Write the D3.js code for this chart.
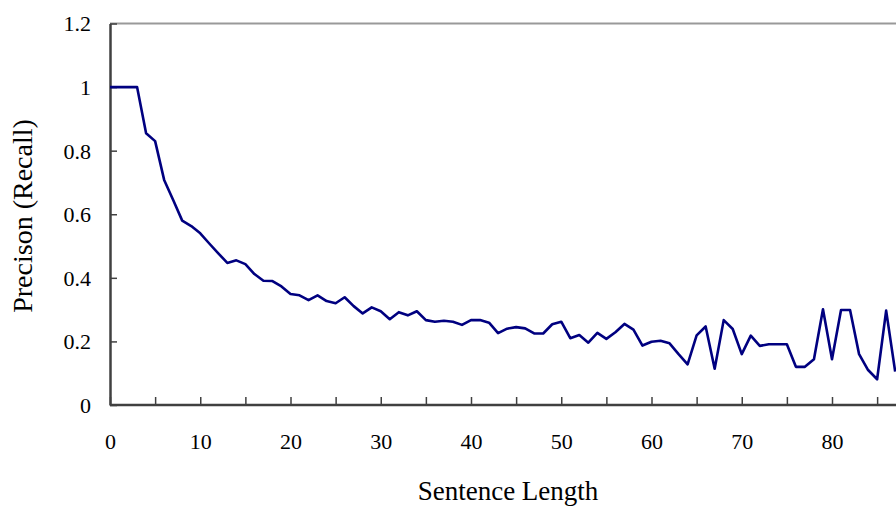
<!DOCTYPE html>
<html>
<head>
<meta charset="utf-8">
<script src="https://cdn.jsdelivr.net/npm/d3@7"></script>
<style>
body{margin:0;background:#fff;}
svg text{font-family:"Liberation Serif","Times New Roman",serif;fill:#000;}
</style>
</head>
<body>
<svg id="chart" width="896" height="506"></svg>
<script>
// sentence length on x, precision (recall) on y
var lengths = d3.range(0, 88);
var precision = [1.0,1.0,1.0,1.0,0.855,0.83,0.708,0.645,0.58,0.563,0.54,0.508,
  0.477,0.447,0.455,0.443,0.412,0.391,0.39,0.373,0.349,0.345,0.33,0.345,
  0.327,0.32,0.339,0.311,0.288,0.307,0.295,0.27,0.292,0.282,0.295,0.267,
  0.262,0.265,0.262,0.252,0.267,0.267,0.259,0.226,0.24,0.245,0.241,0.225,
  0.225,0.254,0.262,0.21,0.22,0.196,0.227,0.208,0.229,0.255,0.237,0.187,
  0.199,0.202,0.194,0.16,0.128,0.219,0.247,0.114,0.267,0.239,0.16,0.218,
  0.186,0.191,0.191,0.191,0.12,0.12,0.144,0.301,0.144,0.299,0.299,0.16,
  0.11,0.081,0.297,0.105];
var yTicks = [0, 0.2, 0.4, 0.6, 0.8, 1, 1.2];
var xTicks = [0,5,10,15,20,25,30,35,40,45,50,55,60,65,70,75,80,85];

var svg = d3.select('#chart');

var x = d3.scaleLinear().domain([0, 80]).range([110, 832]);
var y = d3.scaleLinear().domain([0, 1.2]).range([405, 23.5]);

// top border of plot area (gray)
svg.append('line')
  .attr('x1', x(0)).attr('x2', 896)
  .attr('y1', y(1.2)).attr('y2', y(1.2))
  .attr('stroke', '#999').attr('stroke-width', 2);

// y axis
var yAxis = svg.append('g')
  .attr('transform', 'translate(' + x(0) + ',0)')
  .call(d3.axisLeft(y).tickValues(yTicks).tickFormat(function(d){ return d; })
    .tickSizeInner(-7).tickSizeOuter(0).tickPadding(19));
yAxis.selectAll('text').style('font-size', '22px').attr('dy', '0.34em');

// x axis
var xAxis = svg.append('g')
  .attr('transform', 'translate(0,' + y(0) + ')')
  .call(d3.axisBottom(x).tickValues(xTicks)
    .tickFormat(function(d){ return d % 10 == 0 ? d : ''; })
    .tickSizeInner(-8).tickSizeOuter(0).tickPadding(28));
xAxis.selectAll('text').style('font-size', '22px');
xAxis.select('.domain').attr('d', 'M' + x(0) + ',0H896');

[xAxis, yAxis].forEach(function(a){
  a.select('.domain').attr('stroke', '#404040').attr('stroke-width', 2.5);
  a.selectAll('.tick line').attr('stroke', '#404040').attr('stroke-width', 1.5);
});

// the line
var line = d3.line()
  .x(function(d, i){ return x(lengths[i]); })
  .y(function(d){ return y(d); });

svg.append('path')
  .datum(precision)
  .attr('d', line)
  .attr('fill', 'none')
  .attr('stroke', '#000080')
  .attr('stroke-width', 2.6)
  .attr('stroke-linejoin', 'round');

// axis titles
svg.append('text')
  .attr('x', 508).attr('y', 500)
  .attr('text-anchor', 'middle')
  .style('font-size', '27px')
  .text('Sentence Length');

svg.append('text')
  .attr('transform', 'translate(32,216) rotate(-90)')
  .attr('text-anchor', 'middle')
  .style('font-size', '28px')
  .text('Precison (Recall)');
</script>
</body>
</html>
